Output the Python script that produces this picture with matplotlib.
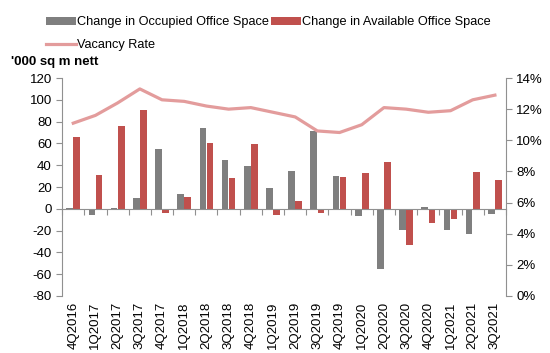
import numpy as np
import matplotlib.pyplot as plt

plt.rcParams['font.family'] = ['Liberation Sans', 'DejaVu Sans']
plt.rcParams['axes.unicode_minus'] = False

quarters = ['4Q2016', '1Q2017', '2Q2017', '3Q2017', '4Q2017', '1Q2018', '2Q2018',
            '3Q2018', '4Q2018', '1Q2019', '2Q2019', '3Q2019', '4Q2019', '1Q2020',
            '2Q2020', '3Q2020', '4Q2020', '1Q2021', '2Q2021', '3Q2021']
occupied = [1, -6, 1, 10, 55, 14, 74, 45, 39, 19, 35, 71, 30, -7, -55, -19, 2, -19, -23, -5]
available = [66, 31, 76, 91, -4, 11, 60, 28, 59, -6, 7, -4, 29, 33, 43, -33, -13, -9, 34, 26]
vacancy = [11.1, 11.6, 12.4, 13.3, 12.6, 12.5, 12.2, 12.0, 12.1, 11.8, 11.5, 10.6,
           10.5, 11.0, 12.1, 12.0, 11.8, 11.9, 12.6, 12.9]

gray = '#7f7f7f'
red = '#c0504d'
pink = '#e39c9c'
axcol = '#909090'

fig = plt.figure(figsize=(5.5, 3.53), dpi=100)
ax = fig.add_axes([0.113, 0.1615, 0.807, 0.6175])
x = np.arange(len(quarters))
w = 0.3

b1 = ax.bar(x - 0.16, occupied, w, color=gray, label='Change in Occupied Office Space')
b2 = ax.bar(x + 0.16, available, w, color=red, label='Change in Available Office Space')
ax.set_ylim(-80, 120)
ax.set_yticks(np.arange(-80, 121, 20))
ax.set_xlim(-0.5, len(quarters) - 0.5)

ax2 = ax.twinx()
ln, = ax2.plot(x, vacancy, color=pink, lw=2.3, label='Vacancy Rate')
ax2.set_ylim(0, 14)
ax2.set_yticks(np.arange(0, 15, 2))
ax2.set_yticklabels([f'{v}%' for v in range(0, 15, 2)])

# x axis line at zero with ticks between categories
ax.spines['bottom'].set_position(('data', 0))
ax.set_xticks(np.arange(-0.5, len(quarters), 1))
ax.tick_params(axis='x', labelbottom=False, length=4, color=axcol, direction='out')
sec = ax.secondary_xaxis('bottom')
sec.set_xticks(x)
sec.set_xticklabels(quarters, rotation=90, fontsize=9.5)
sec.tick_params(length=0, pad=4)
sec.spines['bottom'].set_visible(False)

for s in ['top', 'right']:
    ax.spines[s].set_visible(False)
for s in ['top', 'left', 'bottom']:
    ax2.spines[s].set_visible(False)
ax.spines['left'].set_color(axcol)
ax.spines['bottom'].set_color(axcol)
ax2.spines['right'].set_color(axcol)
ax.tick_params(axis='y', labelsize=9.5, color=axcol, length=4)
ax2.tick_params(axis='y', labelsize=9.5, color=axcol, length=4)

fig.text(0.02, 0.815, "'000 sq m nett", fontsize=9.5, fontweight='bold')

# column-major fill: occupied + available on first row, vacancy on second
fig.legend([b1, ln, b2], [b1.get_label(), ln.get_label(), b2.get_label()],
           loc='upper left', bbox_to_anchor=(0.07, 0.975), ncol=2,
           frameon=False, fontsize=9.2, handlelength=2.3, handleheight=0.5,
           handletextpad=0.1, columnspacing=0.2, labelspacing=0.8, borderaxespad=0.2)

fig.savefig('out.png', dpi=100)
